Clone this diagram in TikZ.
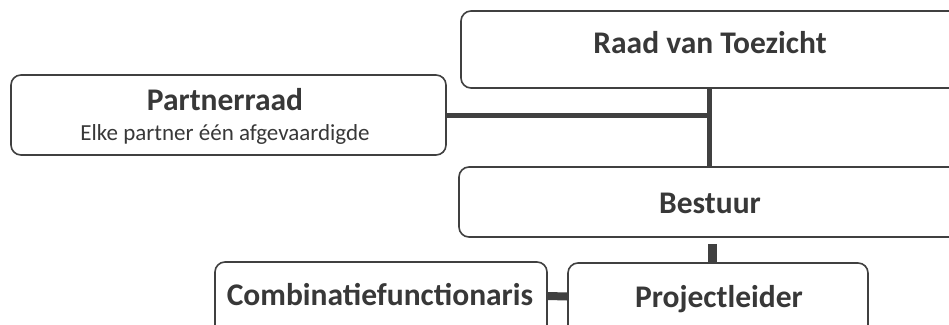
\documentclass[tikz,border=0pt]{standalone}
\usepackage{fontspec}
\setmainfont{Carlito}
\definecolor{linec}{HTML}{404040}
\definecolor{textc}{HTML}{383838}
\tikzset{
  orgbox/.style={draw=linec, line width=1.6pt, rounded corners=10pt, inner sep=0pt},
  titletxt/.style={font=\fontsize{31.5}{36}\selectfont\bfseries, text=textc, inner sep=0pt, anchor=base},
  subtxt/.style={font=\fontsize{23}{27}\selectfont, text=textc, inner sep=0pt, anchor=base},
  conn/.style={draw=linec, line width=5pt},
  connthick/.style={draw=linec, line width=9pt}
}
\begin{document}
\begin{tikzpicture}[x=1pt,y=-1pt]
\path[use as bounding box, clip] (0,0) rectangle (949,324);
\fill[white] (0,0) rectangle (949,324);
% boxes
\node[orgbox, minimum width=499pt, minimum height=77pt] (raad) at (710.5,49.5) {};
\node[orgbox, minimum width=435pt, minimum height=80pt] (partner) at (228.5,115) {};
\node[orgbox, minimum width=501pt, minimum height=70pt] (bestuur) at (709.5,202) {};
\node[orgbox, minimum width=332pt, minimum height=78pt] (combi) at (381,301) {};
\node[orgbox, minimum width=300pt, minimum height=77pt] (proj) at (718,301.5) {};
% texts
\node[titletxt] (raadtxt) at (710,53) {Raad van Toezicht};
\node[titletxt] (partnertxt) at (225,110) {Partnerraad};
\node[subtxt] (partnersub) at (225,140) {Elke partner één afgevaardigde};
\node[titletxt] (bestuurtxt) at (710,213) {Bestuur};
\node[titletxt] (combitxt) at (380,305) {Combinatiefunctionaris};
\node[titletxt] (projtxt) at (719,307) {Projectleider};
% connectors
\coordinate (j) at (709,115);
\coordinate (k) at (712,250);
\draw[conn] (partner.east) -- (j);
\draw[conn] (raad.south -| j) -- (bestuur.north -| j);
\draw[connthick] ([yshift=-6pt]bestuur.south -| k) -- (proj.north -| k);
\draw[line width=8pt, draw=linec] ([yshift=5pt]combi.east) -- ([yshift=5pt]proj.west);
\end{tikzpicture}
\end{document}
